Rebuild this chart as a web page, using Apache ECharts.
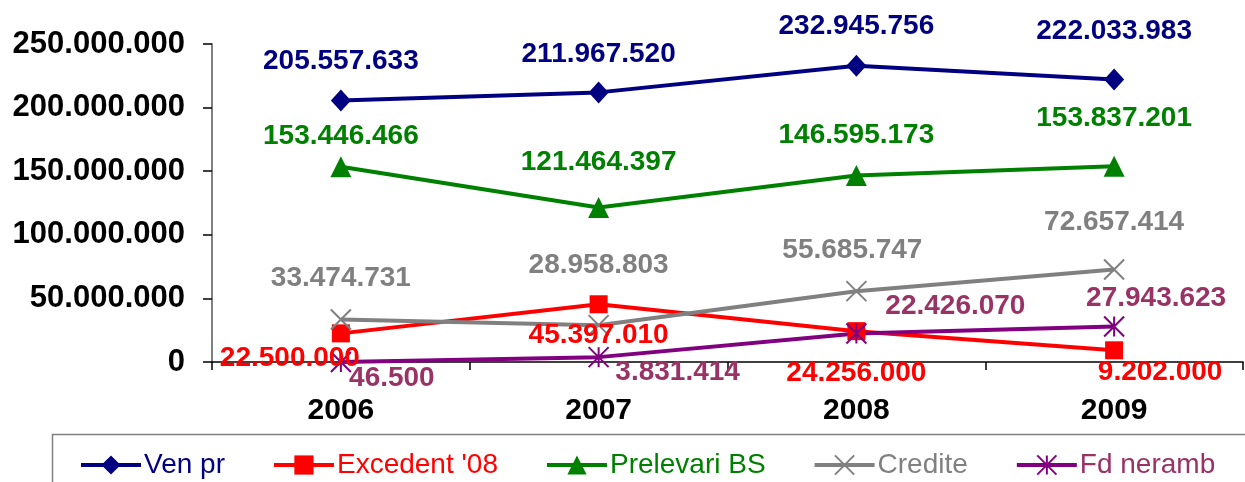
<!DOCTYPE html>
<html>
<head>
<meta charset="utf-8">
<script src="https://cdn.jsdelivr.net/npm/echarts@6/dist/echarts.min.js"></script>
<style>
  html, body { margin: 0; padding: 0; background: #fff; }
  #chart { width: 1245px; height: 482px; }
</style>
</head>
<body>
<div id="chart"></div>
<script>
// data
const years = ['2006', '2007', '2008', '2009'];
const venPr = [205557633, 211967520, 232945756, 222033983];
const excedent = [22500000, 45397010, 24256000, 9202000];
const prelevari = [153446466, 121464397, 146595173, 153837201];
const credite = [33474731, 28958803, 55685747, 72657414];
const fdNeramb = [46500, 3831414, 22426070, 27943623];

// label offsets from the marker centre (dx, dy), like the manual Excel placement
const offsVen = [[0, -39], [0, -38], [0, -39], [0, -48]];
const offsExc = [[-51, 25], [0, 31], [0, 42], [46, 22]];
const offsPre = [[0, -31], [0, -45], [0, -40], [0, -48]];
const offsCre = [[0, -41], [0, -60], [-4, -41], [0, -47]];
const offsFd = [[51, 16], [79, 15], [99, -27], [42, -28]];

const FONT = 'Arial, "Liberation Sans", sans-serif';
const fmt = v => String(Math.round(v)).replace(/\B(?=(\d{3})+(?!\d))/g, '.');

const crossPath = 'path://M0,0L10,10M10,0L0,10';
const starPath = 'path://M5,0L5,10M0,0L10,10M10,0L0,10';

function makeSeries(name, values, offs, lineColor, labelColor, symbol, symbolSize, stroke) {
    return {
        type: 'line',
        name,
        symbol,
        symbolSize,
        data: values.map((v, i) => ({
            value: v,
            label: { offset: offs[i] }
        })),
        lineStyle: { color: lineColor, width: 4 },
        itemStyle: stroke
            ? { color: lineColor, borderColor: lineColor, borderWidth: 2 }
            : { color: lineColor, borderWidth: 0 },
        label: {
            show: true,
            position: 'inside',
            color: labelColor,
            fontFamily: FONT,
            fontWeight: 'bold',
            fontSize: 28,
            formatter: p => fmt(p.value)
        },
        emphasis: { disabled: true },
        animation: false
    };
}

const chart = echarts.init(document.getElementById('chart'));

const option = {
    backgroundColor: '#fff',
    animation: false,
    grid: { left: 212, right: 2, top: 44, bottom: 120 },
    graphic: [{
        type: 'rect',
        shape: { x: 52.5, y: 434.5, width: 1240, height: 60 },
        style: { fill: 'none', stroke: '#808080', lineWidth: 1.5 },
        silent: true
    }],
    legend: {
        left: 74,
        top: 446,
        itemWidth: 60,
        itemHeight: 24,
        itemGap: 47,
        lineStyle: { width: 4 },
        textStyle: { fontFamily: FONT, fontSize: 28, padding: [0, 0, 0, -2] },
        data: [
            { name: 'Ven pr', textStyle: { color: '#000080' } },
            { name: "Excedent '08", textStyle: { color: '#ff0000' } },
            { name: 'Prelevari BS', textStyle: { color: '#008000' } },
            { name: 'Credite', textStyle: { color: '#808080' } },
            { name: 'Fd neramb', textStyle: { color: '#993366' } }
        ]
    },
    xAxis: {
        type: 'category',
        data: years,
        boundaryGap: true,
        axisLine: { lineStyle: { color: '#000', width: 1.5 } },
        axisTick: { show: true, length: 8, lineStyle: { color: '#000', width: 1.5 } },
        axisLabel: { color: '#000', fontFamily: FONT, fontWeight: 'bold', fontSize: 30, margin: 34 },
        splitLine: { show: false }
    },
    yAxis: {
        type: 'value',
        min: 0,
        max: 250000000,
        interval: 50000000,
        axisLine: { show: true, lineStyle: { color: '#808080', width: 2 } },
        axisTick: { show: true, length: 9, lineStyle: { color: '#000', width: 1.5 } },
        axisLabel: {
            color: '#000', fontFamily: FONT, fontWeight: 'bold', fontSize: 31, margin: 27,
            formatter: v => fmt(v)
        },
        splitLine: { show: false }
    },
    series: [
        makeSeries('Ven pr', venPr, offsVen, '#000080', '#000080', 'diamond', [20, 22], false),
        makeSeries("Excedent '08", excedent, offsExc, '#ff0000', '#ff0000', 'rect', 18, false),
        makeSeries('Prelevari BS', prelevari, offsPre, '#008000', '#008000', 'triangle', 21, false),
        makeSeries('Credite', credite, offsCre, '#808080', '#808080', crossPath, 20, true),
        makeSeries('Fd neramb', fdNeramb, offsFd, '#800080', '#993366', starPath, 20, true)
    ]
};

chart.setOption(option);
</script>
</body>
</html>
